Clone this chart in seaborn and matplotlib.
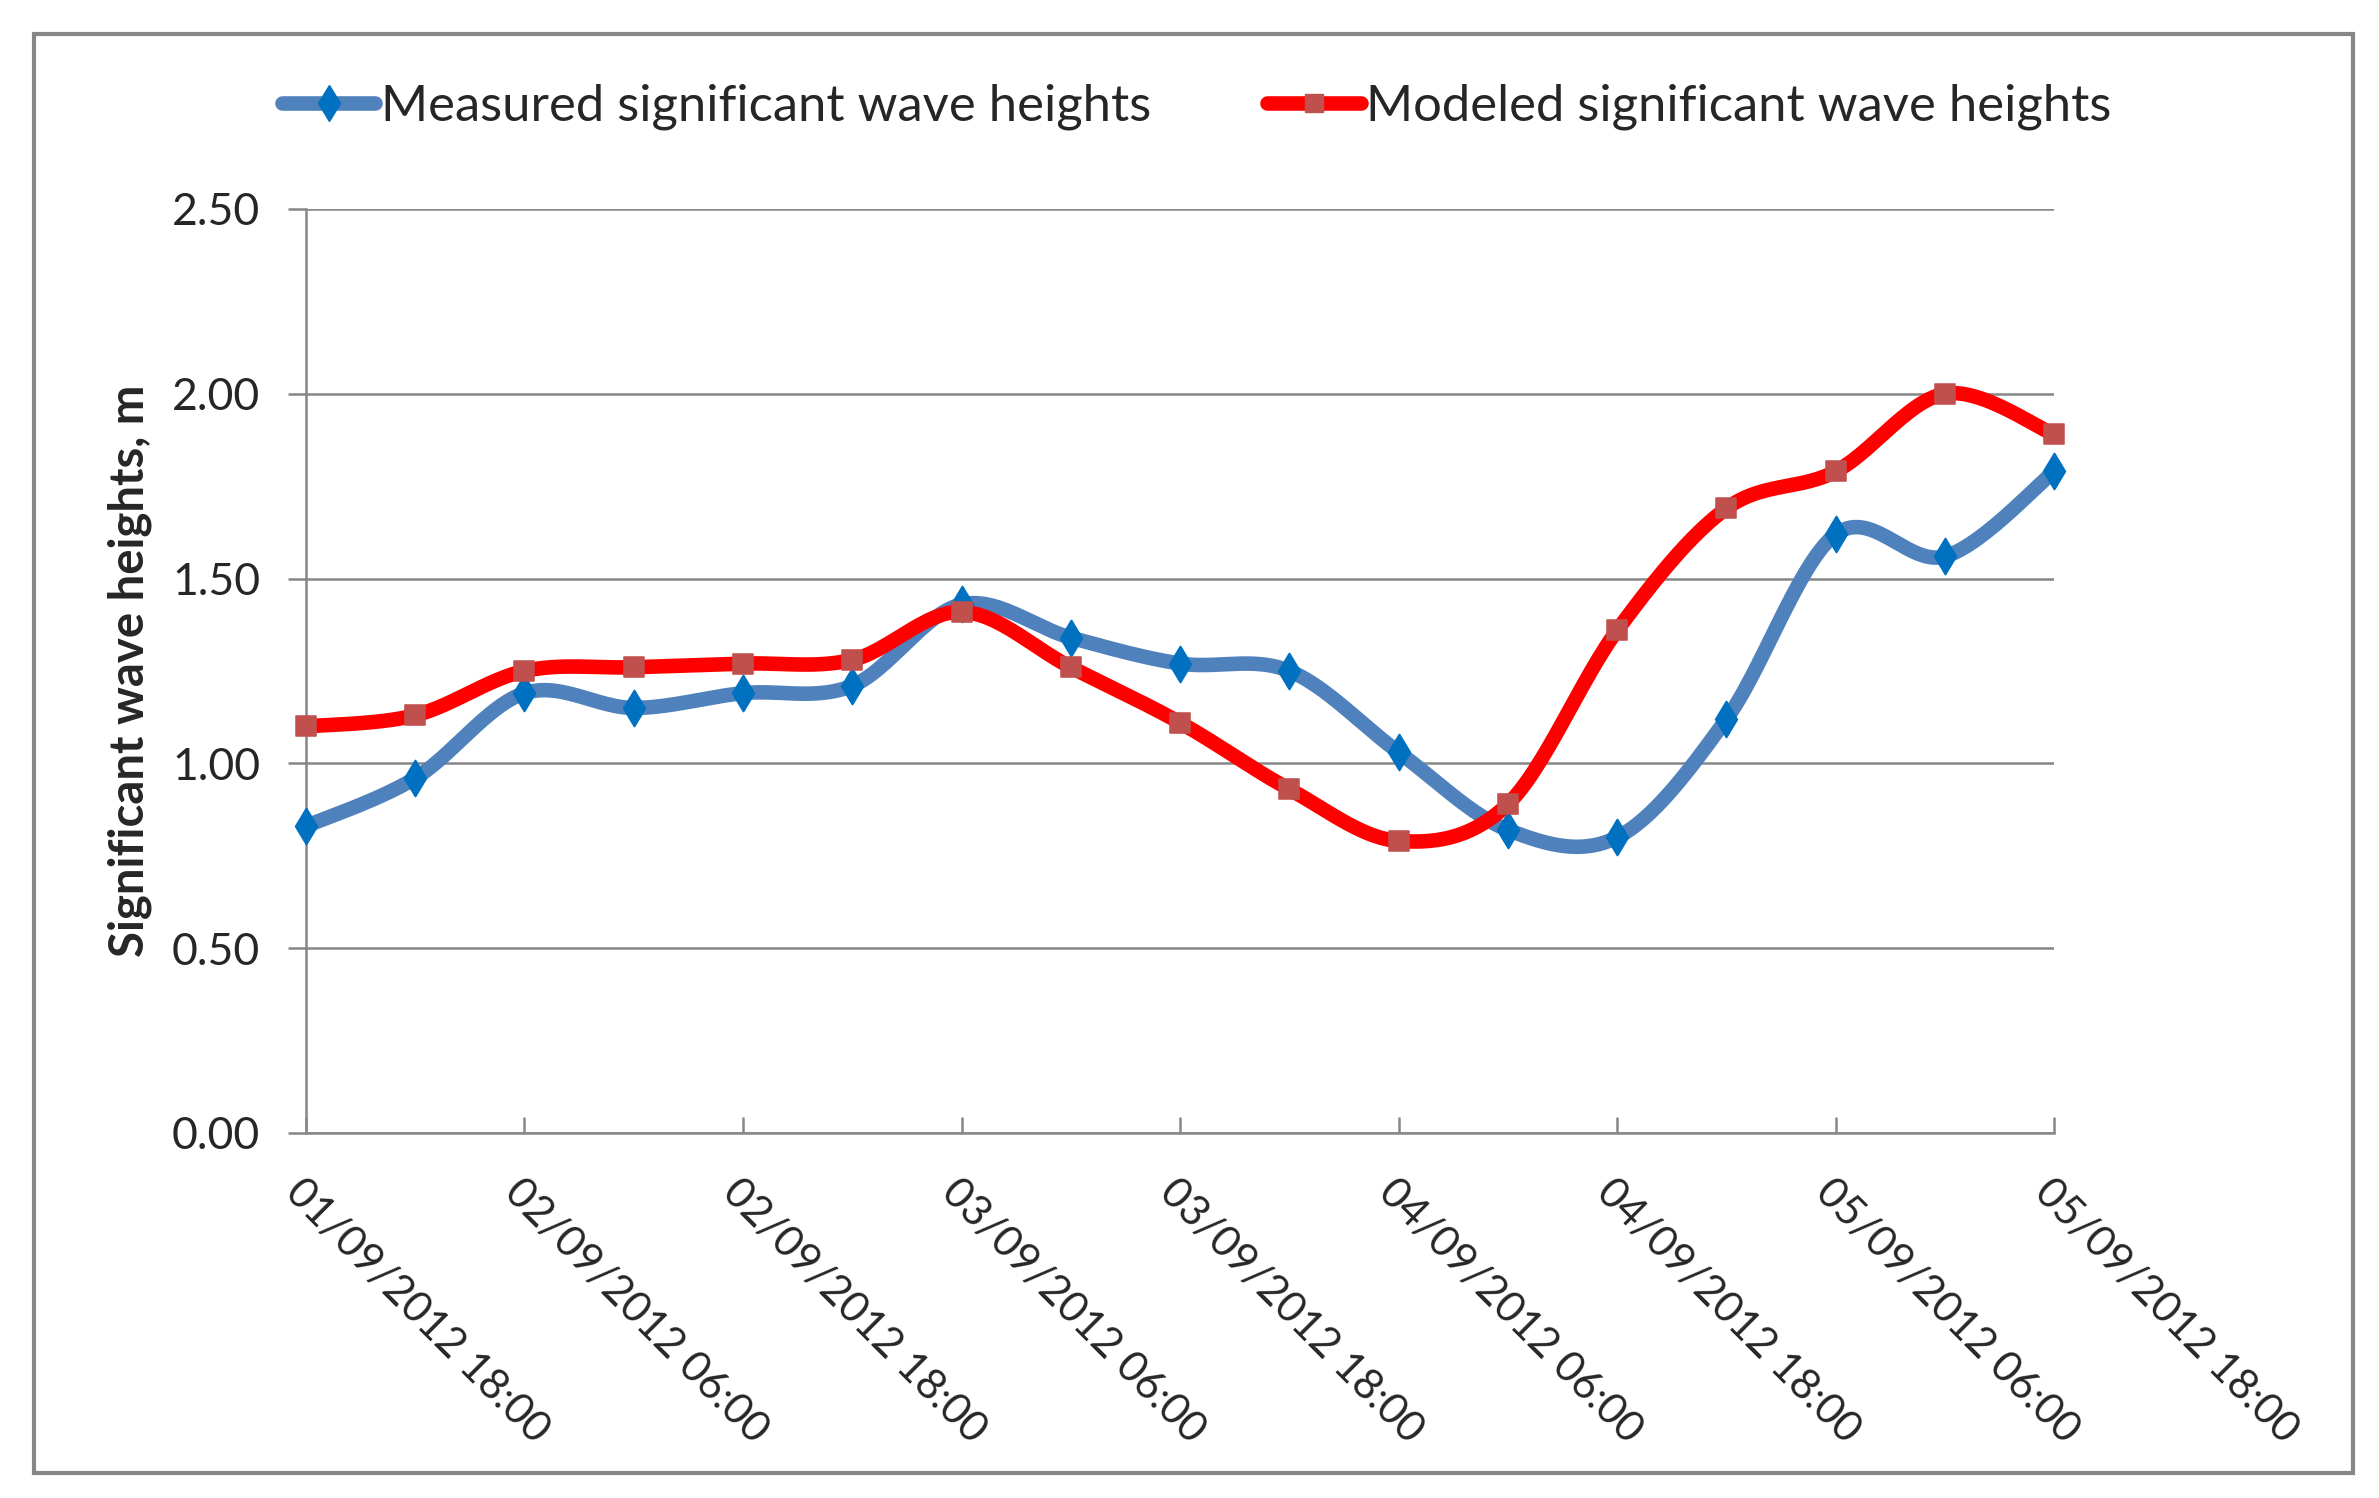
import numpy as np
import pandas as pd
import seaborn as sns
import matplotlib.pyplot as plt
from matplotlib.lines import Line2D
from matplotlib.patches import Rectangle

# tick labels shown every 12 h, data every 6 h
tick_labels = ['01/09/2012 18:00', '02/09/2012 06:00', '02/09/2012 18:00',
               '03/09/2012 06:00', '03/09/2012 18:00', '04/09/2012 06:00',
               '04/09/2012 18:00', '05/09/2012 06:00', '05/09/2012 18:00']
measured = [0.83, 0.96, 1.19, 1.15, 1.19, 1.21, 1.43, 1.34, 1.27,
            1.25, 1.03, 0.82, 0.80, 1.12, 1.62, 1.56, 1.79]
modeled = [1.10, 1.13, 1.25, 1.26, 1.27, 1.28, 1.41, 1.26, 1.11,
           0.93, 0.79, 0.89, 1.36, 1.69, 1.79, 2.00, 1.89]
y_ticks = [0.0, 0.5, 1.0, 1.5, 2.0, 2.5]

measured_label = 'Measured significant wave heights'
modeled_label = 'Modeled significant wave heights'


def excel_smooth(x, y, n=30):
    # Bezier smoothing the way Excel does "smoothed line"
    pts = np.column_stack([x, y]).astype(float)
    padded = np.vstack([pts[0], pts, pts[-1]])
    t = np.linspace(0, 1, n)[:, None]
    out = []
    for i in range(len(pts) - 1):
        p0, p3 = padded[i + 1], padded[i + 2]
        p1 = p0 + (padded[i + 2] - padded[i]) / 6
        p2 = p3 - (padded[i + 3] - padded[i + 1]) / 6
        seg = (1 - t)**3 * p0 + 3 * (1 - t)**2 * t * p1 + 3 * (1 - t) * t**2 * p2 + t**3 * p3
        out.append(seg if i == 0 else seg[1:])
    out = np.vstack(out)
    return out[:, 0], out[:, 1]


sns.set_theme(style="white")
plt.rcParams['font.family'] = ['Lato', 'DejaVu Sans']

blue = '#4F81BD'
blue_mk = '#0070C0'
red = '#FF0000'
red_mk = '#C0504D'
grey = '#878787'
lw = 10.5

df = pd.DataFrame({'idx': np.arange(len(measured)), 'measured': measured, 'modeled': modeled})

fig = plt.figure(figsize=(23.79, 14.98), dpi=100)
ax = fig.add_axes([0.1286, 0.2437, 0.8635 - 0.1286, 0.8605 - 0.2437])

# outer frame of the chart area
fig.patches.append(Rectangle((34 / 2379, 1 - 1473 / 1498), (2353 - 34) / 2379, (1473 - 34) / 1498,
                             transform=fig.transFigure, fill=False, edgecolor=grey, lw=3))

xs, ys = excel_smooth(df['idx'], df['measured'])
sns.lineplot(x=xs, y=ys, sort=False, estimator=None, color=blue, lw=lw, ax=ax,
             solid_capstyle='round', zorder=3)
xs, ys = excel_smooth(df['idx'], df['modeled'])
sns.lineplot(x=xs, y=ys, sort=False, estimator=None, color=red, lw=lw, ax=ax,
             solid_capstyle='round', zorder=4)

sns.scatterplot(data=df, x='idx', y='measured', marker='d', s=330, color=blue_mk,
                edgecolor=blue_mk, ax=ax, zorder=5, clip_on=False)
sns.scatterplot(data=df, x='idx', y='modeled', marker='s', s=200, color=red_mk,
                edgecolor=red_mk, ax=ax, zorder=6, clip_on=False)

ax.set_xlim(0, len(measured) - 1)
ax.set_ylim(0, 2.5)
ax.set_yticks(y_ticks)
ax.set_yticklabels([f'{v:.2f}' for v in y_ticks])
ax.set_xticks(np.arange(0, len(measured), 2))
ax.set_xticklabels(tick_labels, rotation=-45, ha='left', va='top', rotation_mode='anchor')

ax.yaxis.grid(True, color=grey, lw=1.8)
ax.xaxis.grid(False)
for side in ['top', 'right']:
    ax.spines[side].set_visible(False)
for side in ['left', 'bottom']:
    ax.spines[side].set_color(grey)
    ax.spines[side].set_linewidth(1.8)

ax.tick_params(axis='y', direction='out', length=13, width=1.8, color=grey,
               pad=20, labelsize=32, left=True)
ax.tick_params(axis='x', direction='in', length=11.5, width=1.8, color=grey,
               pad=28, labelsize=30.5, bottom=True)

ax.set_xlabel('')
ax.set_ylabel('Significant wave heights, m', fontsize=34, fontweight='bold')
ax.yaxis.set_label_coords(-0.088, 0.5)

handles = [Line2D([], [], color=blue, lw=lw, marker='d', markersize=18,
                  markerfacecolor=blue_mk, markeredgecolor=blue_mk),
           Line2D([], [], color=red, lw=lw, marker='s', markersize=13,
                  markerfacecolor=red_mk, markeredgecolor=red_mk)]
fig.legend(handles, [measured_label, modeled_label], loc='center', ncol=2,
           bbox_to_anchor=(0.503, 0.9286), frameon=False, fontsize=36.5,
           handlelength=1.85, handletextpad=0.1, columnspacing=2.3, numpoints=1)

fig.savefig('out.png', dpi=100)
